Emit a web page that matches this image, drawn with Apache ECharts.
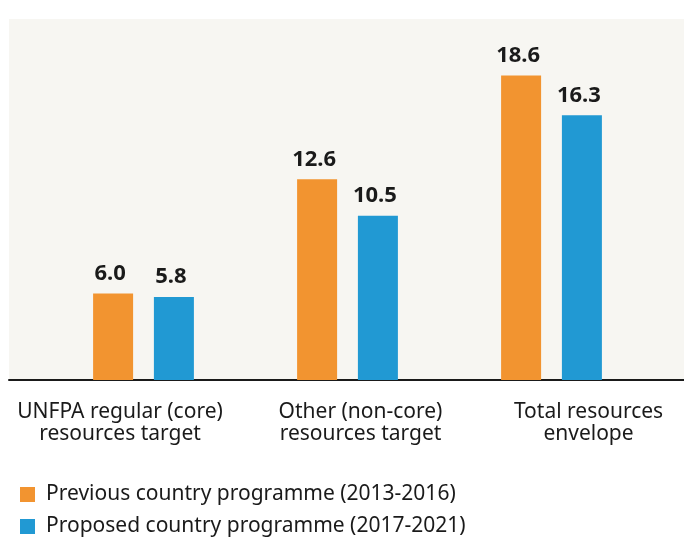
<!DOCTYPE html>
<html>
<head>
<meta charset="utf-8">
<script src="https://cdn.jsdelivr.net/npm/echarts@6/dist/echarts.min.js"></script>
<style>
  html, body { margin: 0; padding: 0; background: #ffffff; }
  #chart { width: 684px; height: 539px; }
</style>
</head>
<body>
<div id="chart"></div>
<script>
const categories = [
  'UNFPA regular (core)\nresources target',
  'Other (non-core)\nresources target',
  'Total resources\nenvelope'
]
const seriesNames = [
  'Previous country programme (2013-2016)',
  'Proposed country programme (2017-2021)'
]
const previousValues = [6.0, 12.6, 18.6]
const proposedValues = [5.8, 10.5, 16.3]

const orange = '#F29430'
const blue = '#2199D3'
const ink = '#1a1a1a'
const font = '"Noto Sans", "Liberation Sans", sans-serif'

// the category labels sit a bit off the bar groups in the original
const labelShift = [
  { padding: [0, 47, 0, 0] },
  { padding: [0, 0, 0, 26] },
  { padding: [0, 0, 0, 74] }
]

const chart = echarts.init(document.getElementById('chart'))

const valueLabel = {
  show: true,
  position: 'top',
  distance: 9,
  offset: [-3, 0],
  fontFamily: font,
  fontWeight: 'bold',
  fontSize: 22,
  color: ink,
  formatter: p => p.value.toFixed(1)
}

const rich = {}
labelShift.forEach((s, i) => {
  rich['c' + i] = {
    fontFamily: font,
    fontSize: 21,
    lineHeight: 22,
    color: ink,
    padding: s.padding
  }
})

// one legend block per row, stacked
function legendRow(name, top) {
  return {
    left: 15,
    top: top,
    icon: 'rect',
    itemWidth: 15,
    itemHeight: 15,
    textStyle: { fontFamily: font, fontSize: 21, color: ink, padding: [0, 0, 0, 6] },
    data: [name]
  }
}

chart.setOption({
  animation: false,
  grid: [
    // panel + baseline
    { left: 9, right: 0, top: 19, bottom: 159, show: true, backgroundColor: '#F7F6F2', borderWidth: 0 },
    // bars
    { left: 41.5, right: 30.5, top: 51.3, bottom: 159 }
  ],
  legend: [
    legendRow(seriesNames[0], 479),
    legendRow(seriesNames[1], 511)
  ],
  xAxis: [
    {
      gridIndex: 0,
      type: 'category',
      data: [''],
      axisLine: { show: true, lineStyle: { color: ink, width: 2 } },
      axisTick: { show: false },
      axisLabel: { show: false }
    },
    {
      gridIndex: 1,
      type: 'category',
      data: categories,
      axisLine: { show: false },
      axisTick: { show: false },
      axisLabel: {
        interval: 0,
        margin: 21,
        formatter: (v, i) => v.split('\n').map(l => '{c' + i + '|' + l + '}').join('\n'),
        rich: rich
      }
    }
  ],
  yAxis: [
    { gridIndex: 0, show: false },
    { gridIndex: 1, show: false, type: 'value', min: 1, max: 20 }
  ],
  series: [
    {
      name: seriesNames[0],
      type: 'bar',
      xAxisIndex: 1,
      yAxisIndex: 1,
      barWidth: 40,
      barGap: '52%',
      itemStyle: { color: orange },
      label: valueLabel,
      data: previousValues
    },
    {
      name: seriesNames[1],
      type: 'bar',
      xAxisIndex: 1,
      yAxisIndex: 1,
      barWidth: 40,
      barGap: '52%',
      itemStyle: { color: blue },
      label: valueLabel,
      data: proposedValues
    }
  ]
})
</script>
</body>
</html>
